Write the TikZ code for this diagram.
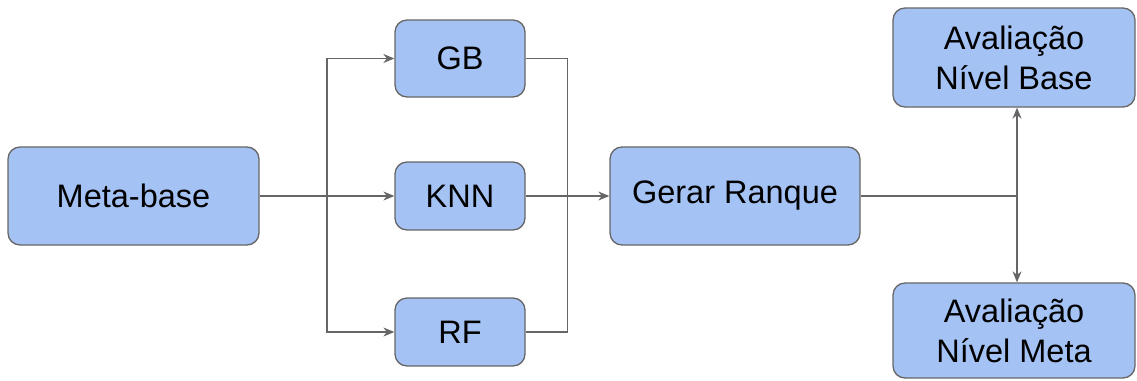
\documentclass[tikz,border=0pt]{standalone}
\usepackage{fontspec}
\setmainfont{Liberation Sans}
\usetikzlibrary{arrows.meta}
\definecolor{boxfill}{HTML}{A4C2F4}
\definecolor{edgegray}{HTML}{666666}
\begin{document}
\begin{tikzpicture}[x=1pt,y=-1pt,
  block/.style={draw=edgegray, line width=1.3pt, fill=boxfill, rounded corners=12pt,
    inner sep=0pt, align=center, font=\fontsize{32.5}{40}\selectfont, text=black},
  link/.style={draw=edgegray, line width=1.3pt},
  flow/.style={link, -{Stealth[length=11pt, width=9pt, inset=3.5pt]}}]
\useasboundingbox (0,0) rectangle (1137,380);

\node[block, minimum width=251pt, minimum height=98pt] (meta) at (133.5,196) {Meta-base};
\node[block, minimum width=130pt, minimum height=77pt] (gb)  at (460,58.5) {GB};
\node[block, minimum width=130pt, minimum height=68pt] (knn) at (460,196) {KNN};
\node[block, minimum width=130pt, minimum height=68pt] (rf)  at (460,332) {RF};
\node[block, minimum width=250pt, minimum height=98pt] (rank) at (735,196) {Gerar Ranque};
\node[block, minimum width=242pt, minimum height=99pt] (avb) at (1014,57.5) {Avaliação\\Nível Base};
\node[block, minimum width=242pt, minimum height=95pt] (avm) at (1014,330.5) {Avaliação\\Nível Meta};

\coordinate (split) at (327,196);
\coordinate (merge) at (567.5,196);
\coordinate (junc) at (1017,196);

% fan-out from the meta-base to the three models
\draw[flow] (meta.east) -- (knn.west);
\draw[flow] (split) |- (gb.west);
\draw[flow] (split) |- (rf.west);

% models joined into the ranking step
\draw[link] (gb.east) -| (merge);
\draw[link] (rf.east) -| (merge);
\draw[flow] (knn.east) -- (rank.west);

% ranking sent to both evaluations
\draw[link] (rank.east) -- (junc);
\draw[flow] (junc) -- (junc |- avb.south);
\draw[flow] (junc) -- (junc |- avm.north);
\end{tikzpicture}
\end{document}
